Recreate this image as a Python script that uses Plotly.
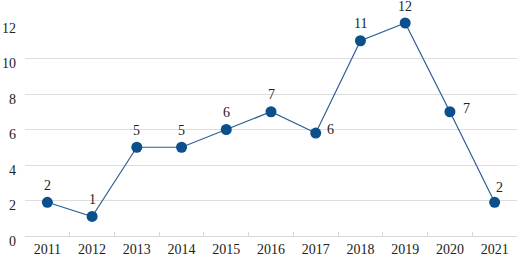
import plotly.graph_objects as go

years = ["2011", "2012", "2013", "2014", "2015", "2016", "2017", "2018", "2019", "2020", "2021"]
values = [1.9, 1.1, 5, 5, 6, 7, 5.8, 11, 12, 7, 1.9]
labels = ["2", "1", "5", "5", "6", "7", "6", "11", "12", "7", "2"]
y_ticks = [0, 2, 4, 6, 8, 10, 12]

# label offsets in pixels (style, not data)
label_dx = [0, 0, 0, 0, 0, 0, 15, 0, 0, 17, 5]
label_dy = [17, 17, 17, 17, 17, 17, 4, 17, 17, 3, 15]

FONT = '"Times New Roman", "Liberation Serif", Times, serif'

fig = go.Figure()
fig.add_trace(go.Scatter(
    x=years, y=values, mode="lines+markers",
    line=dict(color="#2f5f94", width=1.2),
    marker=dict(color="#0b4f8c", size=11),
    cliponaxis=False, showlegend=False,
))

# category axis: annotation x given as the category index
for i, (v, t, dx, dy) in enumerate(zip(values, labels, label_dx, label_dy)):
    fig.add_annotation(
        x=i, y=v, xref="x", yref="y", text=t, showarrow=False,
        xshift=dx, yshift=dy,
        font=dict(family=FONT, size=14, color="#222222"),
    )

fig.update_layout(
    width=519, height=257,
    margin=dict(l=25, r=2, t=23, b=21, autoexpand=False),
    plot_bgcolor="white", paper_bgcolor="white",
    font=dict(family=FONT, size=14, color="#222222"),
)
fig.update_xaxes(
    type="category", categoryorder="array", categoryarray=years,
    range=[-0.5, 10.5], automargin=False,
    showgrid=False, showline=True, linecolor="#d9d9d9", linewidth=1,
    ticks="inside", tickson="boundaries", ticklen=4, tickcolor="#d9d9d9",
    ticklabelstandoff=0,
    tickfont=dict(family=FONT, size=14, color="#222222"),
)
fig.update_yaxes(
    range=[0, 12], tickvals=y_ticks, automargin=False,
    showgrid=True, gridcolor="#dddddd", gridwidth=1,
    zeroline=False, showline=False, ticks="",
    ticklabelshift=5, ticklabelstandoff=8,
    tickfont=dict(family=FONT, size=14, color="#222222"),
)

fig.write_html(
    "out.html",
    config={"displayModeBar": False},
    post_script="document.body.style.margin='0';document.body.style.overflow='hidden';",
)
